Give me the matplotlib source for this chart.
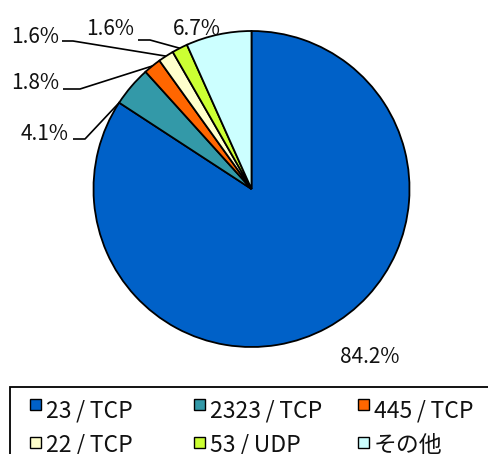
import matplotlib
matplotlib.use('Agg')
import matplotlib.pyplot as plt
import matplotlib.patches as mpatches
import numpy as np

plt.rcParams['font.family'] = ['Noto Sans CJK JP', 'DejaVu Sans']

# --- data ---
labels = ['23/TCP', '2323/TCP', '445/TCP', '22/TCP', '53/UDP', 'その他']
shares = [84.2, 4.1, 1.8, 1.6, 1.6, 6.7]
colors = ['#0061C8', '#3399A8', '#FF6600', '#FFFFCC', '#CCFF33', '#CCFFFF']

W, H = 489, 454
fig = plt.figure(figsize=(W / 100, H / 100), dpi=100, facecolor='white')
# axes in pixel units (y up)
ax = fig.add_axes([0, 0, 1, 1])
ax.axis('off')

cx, cy, r = 251.5, H - 189, 158
wedges, _ = ax.pie(shares, colors=colors, startangle=90, counterclock=False,
                   radius=r, center=(cx, cy),
                   wedgeprops={'linewidth': 1.3, 'edgecolor': 'black'})
ax.set_aspect('equal')
ax.set_xlim(0, W)
ax.set_ylim(0, H)

pct_fs = 15
# label layout: (text x, baseline y from top, leader: (x0, x1, line y from top, anchor))
lay = [
    (370, 363, None),
    (45, 140, (73, 85, 139, 'start')),
    (35, 89, (63, 80, 89, 'mid')),
    (35, 43, (62, 73, 41, 'mid')),
    (110, 35, (138, 150, 40, 'mid')),
    (197, 35, None),
]
for w, v, (tx, ty, ld) in zip(wedges, shares, lay):
    ax.text(tx, H - ty, f'{v:.1f}%', ha='center', va='baseline', fontsize=pct_fs, color='#111111')
    if ld is None:
        continue
    x0, x1, ly, anc = ld
    ang = w.theta2 if anc == 'start' else (w.theta1 + w.theta2) / 2
    ex = cx + r * np.cos(np.radians(ang))
    ey = cy + r * np.sin(np.radians(ang))
    ax.plot([x0, x1, ex], [H - ly, H - ly, ey], color='black', lw=1.2, solid_capstyle='butt')

# --- legend (manual, frame runs off the right/bottom edge) ---
frame = mpatches.Rectangle((10, -20), W, H - 387 + 20, fill=False, edgecolor='black', lw=1.3)
ax.add_patch(frame)
for i, (lab, col) in enumerate(zip(labels, colors)):
    row, c = divmod(i, 3)
    mx = 30 + 164 * c
    my = H - (404.5 + 37.5 * row)
    ax.add_patch(mpatches.Rectangle((mx, my - 5.5), 11, 11, facecolor=col, edgecolor='black', lw=1.0))
    ax.text(mx + 16, H - (417 + 34.5 * row), lab.replace('/', '\u2009/\u2009'),
            ha='left', va='baseline', fontsize=16.5, color='#111111')

fig.savefig('out.png', dpi=100)
